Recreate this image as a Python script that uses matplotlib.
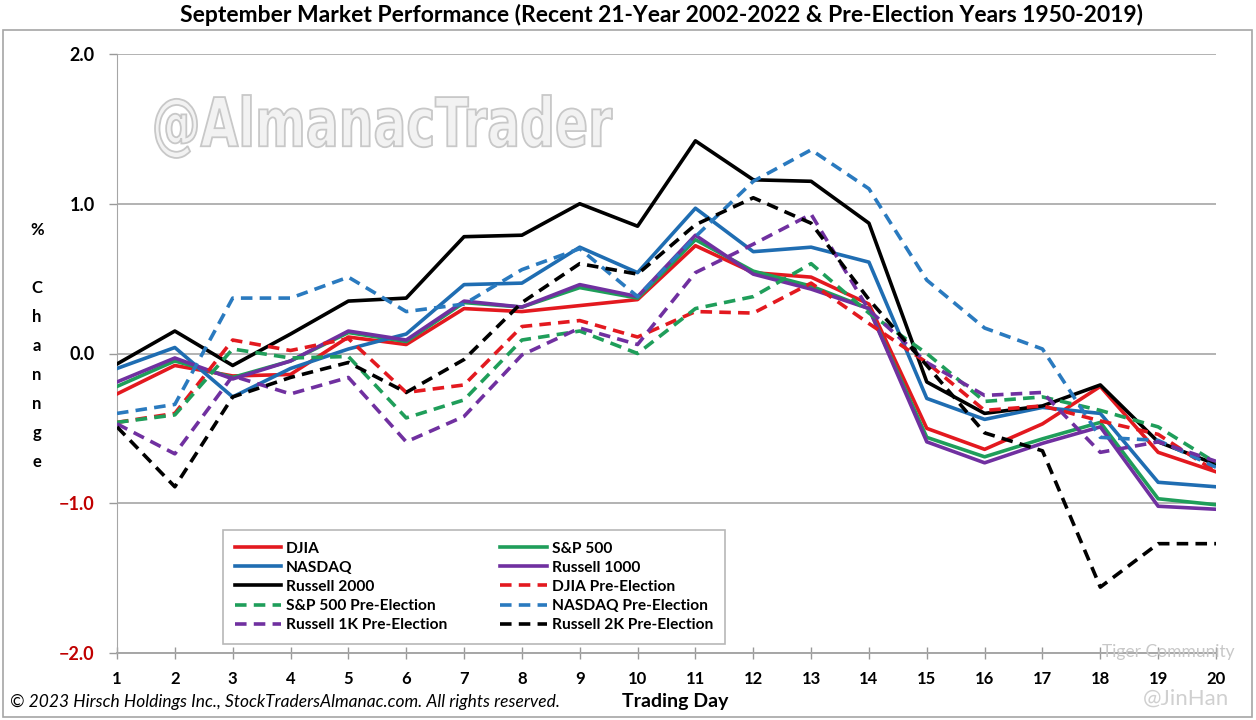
import matplotlib
matplotlib.use("Agg")
import matplotlib.pyplot as plt
from matplotlib.patches import Rectangle, PathPatch
from matplotlib.textpath import TextPath
from matplotlib.font_manager import FontProperties
from matplotlib.transforms import Affine2D

days = list(range(1, 21))
djia = [-0.27, -0.08, -0.15, -0.14, 0.11, 0.06, 0.30, 0.28, 0.32, 0.36, 0.72, 0.54, 0.51, 0.33, -0.50, -0.64, -0.47, -0.22, -0.66, -0.79]
sp500 = [-0.22, -0.05, -0.16, -0.05, 0.14, 0.08, 0.34, 0.31, 0.44, 0.37, 0.76, 0.55, 0.45, 0.30, -0.56, -0.69, -0.57, -0.46, -0.97, -1.01]
nasdaq = [-0.10, 0.04, -0.29, -0.10, 0.03, 0.13, 0.46, 0.47, 0.71, 0.54, 0.97, 0.68, 0.71, 0.61, -0.30, -0.44, -0.36, -0.40, -0.86, -0.89]
r1000 = [-0.19, -0.03, -0.17, -0.05, 0.15, 0.09, 0.35, 0.31, 0.46, 0.38, 0.79, 0.53, 0.43, 0.30, -0.59, -0.73, -0.60, -0.49, -1.02, -1.04]
r2000 = [-0.07, 0.15, -0.08, 0.13, 0.35, 0.37, 0.78, 0.79, 1.00, 0.85, 1.42, 1.16, 1.15, 0.87, -0.19, -0.40, -0.35, -0.21, -0.59, -0.74]
djia_pe = [-0.46, -0.40, 0.09, 0.02, 0.10, -0.26, -0.21, 0.18, 0.22, 0.11, 0.28, 0.27, 0.47, 0.20, -0.06, -0.38, -0.35, -0.45, -0.54, -0.79]
sp500_pe = [-0.46, -0.41, 0.03, -0.03, -0.02, -0.43, -0.31, 0.09, 0.15, 0.00, 0.30, 0.38, 0.60, 0.27, 0.00, -0.32, -0.29, -0.38, -0.49, -0.73]
nasdaq_pe = [-0.40, -0.34, 0.37, 0.37, 0.51, 0.28, 0.33, 0.56, 0.70, 0.38, 0.78, 1.15, 1.36, 1.10, 0.49, 0.17, 0.03, -0.56, -0.58, -0.76]
r1k_pe = [-0.47, -0.67, -0.15, -0.27, -0.16, -0.59, -0.42, -0.01, 0.17, 0.06, 0.54, 0.73, 0.93, 0.29, -0.06, -0.28, -0.26, -0.66, -0.59, -0.72]
r2k_pe = [-0.49, -0.89, -0.29, -0.16, -0.06, -0.26, -0.04, 0.34, 0.60, 0.53, 0.86, 1.04, 0.87, 0.36, -0.08, -0.53, -0.65, -1.56, -1.27, -1.27]

y_ticks = [-2.0, -1.0, 0.0, 1.0, 2.0]
y_ticklabels = ["\u22122.0", "\u22121.0", "0.0", "1.0", "2.0"]

RED = "#e3191f"
GREEN = "#1f9e5a"
BLUE = "#1f6db2"
PURPLE = "#7030a0"
BLACK = "#000000"
LBLUE = "#2a7abf"

FONT = ["Lato", "DejaVu Sans"]
plt.rcParams["font.family"] = FONT

W, H = 1256, 720
fig = plt.figure(figsize=(W / 100, H / 100), dpi=100)
ax = fig.add_axes([117 / W, 1 - 653 / H, (1216 - 117) / W, (653 - 54) / H])

# watermark drawn as a scaled text path (narrow, outlined)
tp = TextPath((0, 0), "@AlmanacTrader", size=50, prop=FontProperties(family="DejaVu Sans", weight="bold"))
ext = tp.get_extents()
x0, x1 = 155 / W, 612 / W
y0, y1 = 1 - 158 / H, 1 - 95 / H
tr = Affine2D().translate(-ext.x0, -ext.y0).scale((x1 - x0) / ext.width, (y1 - y0) / ext.height).translate(x0, y0)
wm = PathPatch(tr.transform_path(tp), transform=fig.transFigure, facecolor="#f2f2f2",
               edgecolor="#c8c8c8", lw=1.3, zorder=1)
ax.add_patch(wm)

LW = 2.6
series = [
    ("DJIA", djia, RED, "-"),
    ("S&P 500", sp500, GREEN, "-"),
    ("NASDAQ", nasdaq, BLUE, "-"),
    ("Russell 1000", r1000, PURPLE, "-"),
    ("Russell 2000", r2000, BLACK, "-"),
    ("DJIA Pre-Election", djia_pe, RED, "--"),
    ("S&P 500 Pre-Election", sp500_pe, GREEN, "--"),
    ("NASDAQ Pre-Election", nasdaq_pe, LBLUE, "--"),
    ("Russell 1K Pre-Election", r1k_pe, PURPLE, "--"),
    ("Russell 2K Pre-Election", r2k_pe, BLACK, "--"),
]
handles = {}
for name, vals, col, ls in series:
    kw = dict(color=col, lw=LW, label=name, zorder=3)
    if ls == "--":
        kw["dashes"] = (3.2, 2.0)
    ln, = ax.plot(days, vals, **kw)
    handles[name] = ln

ax.set_xlim(1, 20)
ax.set_ylim(-2, 2)
ax.set_yticks(y_ticks)
ax.set_yticklabels(y_ticklabels)
for lab, v in zip(ax.get_yticklabels(), y_ticks):
    lab.set_fontweight("bold")
    lab.set_fontsize(13)
    lab.set_color("#c00000" if v < 0 else "black")
ax.tick_params(axis="y", length=6, color="#999999", pad=10, width=1)
ax.set_xticks(days)
ax.set_xticklabels([str(d) for d in days], fontweight="bold", fontsize=12)
ax.tick_params(axis="x", direction="inout", length=8, color="#999999", pad=9, width=1)
ax.grid(axis="y", color="#a6a6a6", lw=1.2, zorder=0)
for s in ["top", "right"]:
    ax.spines[s].set_visible(False)
ax.spines["left"].set_color("#a6a6a6")
ax.spines["bottom"].set_color("#a6a6a6")
ax.spines["bottom"].set_linewidth(1.4)
ax.set_axisbelow(True)

order = ["DJIA", "NASDAQ", "Russell 2000", "S&P 500 Pre-Election", "Russell 1K Pre-Election",
         "S&P 500", "Russell 1000", "DJIA Pre-Election", "NASDAQ Pre-Election", "Russell 2K Pre-Election"]
leg = ax.legend([handles[n] for n in order], order, ncol=2, loc="upper left",
                bbox_to_anchor=(223 / W, 1 - 530 / H), bbox_transform=fig.transFigure,
                prop=dict(weight="bold", size=11.2), frameon=True, fancybox=False,
                edgecolor="#a6a6a6", handlelength=3.0, handletextpad=0.3,
                labelspacing=0.33, columnspacing=3.4, borderpad=0.75, borderaxespad=0)
leg.get_frame().set_linewidth(1.2)
leg.set_zorder(5)

fig.text(661 / W, 1 - 15 / H,
         "September Market Performance (Recent 21-Year 2002-2022 & Pre-Election Years 1950-2019)",
         ha="center", va="center", fontsize=16.5, fontweight="bold")
fig.text(37 / W, 1 - 346 / H, "%\n\nC\nh\na\nn\nn\ng\ne", ha="center", va="center",
         fontsize=12, fontweight="bold", linespacing=2.0)
fig.text(675 / W, 1 - 702 / H, "Trading Day", ha="center", va="center",
         fontsize=14, fontweight="bold")
fig.text(10 / W, 1 - 702 / H,
         "\u00a9 2023 Hirsch Holdings Inc., StockTradersAlmanac.com. All rights reserved.",
         ha="left", va="center", fontsize=12.5, style="italic")

fig.text(1168 / W, 1 - 652 / H, "Tiger Community", ha="center", va="center",
         fontsize=12.5, color="#c8c8c8")
fig.text(1186 / W, 1 - 699 / H, "@JinHan", ha="center", va="center",
         fontsize=16, color="#d0d0d0")

fig.patches.append(Rectangle((3 / W, 1 - 717 / H), 1249 / W, (717 - 30) / H,
                             transform=fig.transFigure, fill=False, edgecolor="#a6a6a6", lw=1.2))

fig.savefig("out.png", dpi=100)
